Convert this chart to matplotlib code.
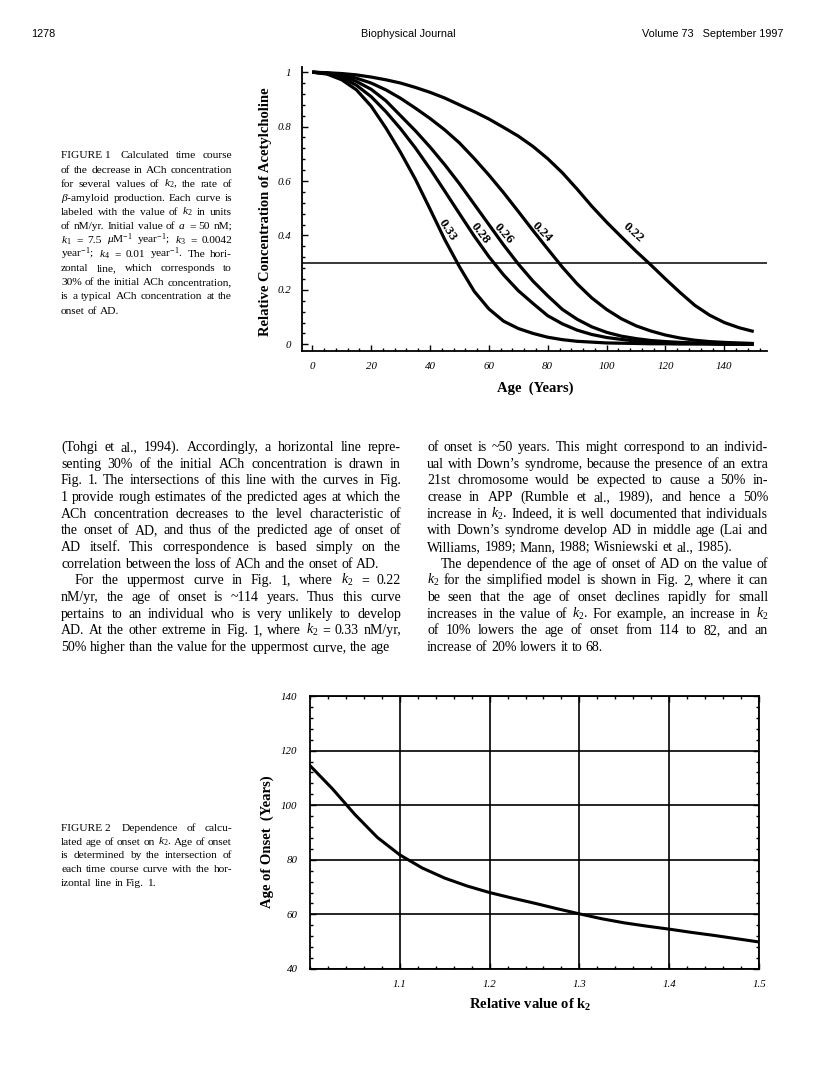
import matplotlib
matplotlib.use('Agg')
import matplotlib.pyplot as plt
from matplotlib.ticker import MultipleLocator
import numpy as np

# === Page size ===
W, H = 816, 1090
DPI = 100

plt.rcParams['font.family'] = 'Liberation Serif'
plt.rcParams['mathtext.fontset'] = 'custom'
plt.rcParams['mathtext.rm'] = 'Liberation Serif'
plt.rcParams['mathtext.it'] = 'Liberation Serif:italic'
plt.rcParams['mathtext.bf'] = 'Liberation Serif:bold'

# === Figure 1 data: relative ACh concentration vs age ===
ages = np.arange(0, 155, 5)
k2_labels = ['0.22', '0.24', '0.26', '0.28', '0.33']
conc_022 = [1.000, 0.998, 0.995, 0.990, 0.982, 0.972, 0.960, 0.944, 0.926, 0.905, 0.880,
            0.855, 0.828, 0.797, 0.765, 0.727, 0.682, 0.630, 0.570, 0.507, 0.449,
            0.395, 0.342, 0.292, 0.240, 0.190, 0.143, 0.107, 0.080, 0.061, 0.047]
conc_024 = [1.000, 0.997, 0.990, 0.978, 0.960, 0.935, 0.904, 0.868, 0.830, 0.788, 0.740,
            0.683, 0.622, 0.557, 0.488, 0.418, 0.350, 0.283, 0.222, 0.170, 0.128,
            0.094, 0.068, 0.049, 0.034, 0.023, 0.015, 0.010, 0.007, 0.005, 0.003]
conc_026 = [1.000, 0.996, 0.986, 0.966, 0.937, 0.895, 0.840, 0.785, 0.725, 0.660, 0.590,
            0.515, 0.440, 0.365, 0.295, 0.232, 0.178, 0.128, 0.092, 0.064, 0.044,
            0.030, 0.021, 0.014, 0.010, 0.007, 0.005, 0.003, 0.002, 0.002, 0.001]
conc_028 = [1.000, 0.995, 0.980, 0.952, 0.910, 0.855, 0.792, 0.722, 0.645, 0.563, 0.480,
            0.398, 0.322, 0.255, 0.197, 0.150, 0.105, 0.075, 0.052, 0.036, 0.025,
            0.018, 0.012, 0.008, 0.006, 0.004, 0.003, 0.002, 0.001, 0.001, 0.001]
conc_033 = [1.000, 0.993, 0.972, 0.935, 0.875, 0.795, 0.705, 0.607, 0.497, 0.385, 0.285,
            0.195, 0.130, 0.085, 0.058, 0.040, 0.026, 0.017, 0.011, 0.008, 0.005,
            0.004, 0.003, 0.002, 0.002, 0.001, 0.001, 0.001, 0.000, 0.000, 0.000]
onset_level = 0.3

# curve label anchors (age, conc) and rotation
label_age = [109, 78, 65, 57, 46]
label_conc = [0.412, 0.412, 0.408, 0.408, 0.418]
label_rot = [-42, -45, -48, -52, -57]

# === Figure 2 data: age of onset vs relative k2 ===
rel_k2 = [1.000, 1.025, 1.050, 1.075, 1.100, 1.125, 1.150, 1.175, 1.200, 1.225, 1.250,
          1.275, 1.300, 1.325, 1.350, 1.375, 1.400, 1.425, 1.450, 1.475, 1.500]
onset_age = [114.5, 106.0, 96.6, 88.2, 81.8, 77.0, 73.3, 70.4, 68.0, 66.0, 64.1,
             62.1, 60.2, 58.4, 56.9, 55.7, 54.6, 53.4, 52.3, 51.1, 49.9]

# === Page text ===
header_left = '1278'
header_mid = 'Biophysical Journal'
header_right = 'Volume 73   September 1997'

cap1 = [
    'FIGURE\u00a01\u00a0 Calculated time course',
    'of the decrease in ACh concentration',
    r'for several values of $k_2$, the rate of',
    r'$\beta$-amyloid production. Each curve is',
    r'labeled with the value of $k_2$ in units',
    r'of nM/yr. Initial value of $a$ = 50 nM;',
    r'$k_1$ = 7.5 $\mu$M$^{-1}$ year$^{-1}$; $k_3$ = 0.0042',
    r'year$^{-1}$; $k_4$ = 0.01 year$^{-1}$. The hori-',
    'zontal line, which corresponds to',
    '30% of the initial ACh concentration,',
    'is a typical ACh concentration at the',
    'onset of AD.',
]
cap2 = [
    'FIGURE\u00a02\u00a0 Dependence of calcu-',
    r'lated age of onset on $k_2$. Age of onset',
    'is determined by the intersection of',
    'each time course curve with the hor-',
    'izontal line in Fig. 1.',
]
col_left = [
    '(Tohgi et al., 1994). Accordingly, a horizontal line repre-',
    'senting 30% of the initial ACh concentration is drawn in',
    'Fig. 1. The intersections of this line with the curves in Fig.',
    '1 provide rough estimates of the predicted ages at which the',
    'ACh concentration decreases to the level characteristic of',
    'the onset of AD, and thus of the predicted age of onset of',
    'AD itself. This correspondence is based simply on the',
    'correlation between the loss of ACh and the onset of AD.',
    r'For the uppermost curve in Fig. 1, where $k_2$ = 0.22',
    'nM/yr, the age of onset is ~114 years. Thus this curve',
    'pertains to an individual who is very unlikely to develop',
    r'AD. At the other extreme in Fig. 1, where $k_2$ = 0.33 nM/yr,',
    '50% higher than the value for the uppermost curve, the age',
]
col_right = [
    'of onset is ~50 years. This might correspond to an individ-',
    'ual with Down\u2019s syndrome, because the presence of an extra',
    '21st chromosome would be expected to cause a 50% in-',
    'crease in APP (Rumble et al., 1989), and hence a 50%',
    r'increase in $k_2$. Indeed, it is well documented that individuals',
    'with Down\u2019s syndrome develop AD in middle age (Lai and',
    'Williams, 1989; Mann, 1988; Wisniewski et al., 1985).',
    'The dependence of the age of onset of AD on the value of',
    r'$k_2$ for the simplified model is shown in Fig. 2, where it can',
    'be seen that the age of onset declines rapidly for small',
    r'increases in the value of $k_2$. For example, an increase in $k_2$',
    'of 10% lowers the age of onset from 114 to 82, and an',
    'increase of 20% lowers it to 68.',
]
left_ends = [7, 12]      # lines that end a paragraph (not justified)
left_indent = [8]
right_ends = [6, 12]
right_indent = [7]

fig = plt.figure(figsize=(W / DPI, H / DPI), dpi=DPI)
renderer = fig.canvas.get_renderer()


def fpos(x, y):
    # page pixels (top-left origin) -> figure fraction
    return x / W, 1 - y / H


def axes_px(left, top, right, bottom):
    return fig.add_axes([left / W, 1 - bottom / H, (right - left) / W, (bottom - top) / H])


def justified(lines, x0, x1, y0, step, size, ends=(), indents=(), indent=14):
    em = size * DPI / 72
    for i, line in enumerate(lines):
        y = y0 + i * step
        start = x0 + (indent if i in indents else 0)
        words = line.split(' ')
        arts = [fig.text(0, 0, w, fontsize=size, ha='left', va='baseline') for w in words]
        widths = [a.get_window_extent(renderer).width for a in arts]
        if i in ends or i == len(lines) - 1 or len(words) == 1:
            gap = 0.25 * em
        else:
            gap = max((x1 - start - sum(widths)) / (len(words) - 1), 0.16 * em)
        x = start
        for a, w in zip(arts, widths):
            a.set_position(fpos(x, y))
            x += w + gap


# === Header ===
hdr = dict(fontsize=7.8, family='Liberation Sans', va='baseline')
fig.text(*fpos(31, 37), header_left, ha='left', **hdr)
fig.text(*fpos(408, 37), header_mid, ha='center', **hdr)
fig.text(*fpos(783, 37), header_right, ha='right', **hdr)

# === Figure 1 ===
ax1 = axes_px(302, 67, 767, 351)
for conc in [conc_022, conc_024, conc_026, conc_028, conc_033]:
    ax1.plot(ages, conc, color='black', lw=2.3, solid_capstyle='butt')
ax1.axhline(onset_level, color='black', lw=1.1)
for lbl, a, c, r in zip(k2_labels, label_age, label_conc, label_rot):
    ax1.text(a, c, lbl, rotation=r, ha='center', va='center', rotation_mode='anchor',
             fontsize=9.5, fontweight='bold')
ax1.set_xlim(-3.5, 154.5)
ax1.set_ylim(-0.0246, 1.019)
for s in ['top', 'right']:
    ax1.spines[s].set_visible(False)
for s in ['left', 'bottom']:
    ax1.spines[s].set_linewidth(1.3)
ax1.set_xticks(np.arange(0, 141, 20))
ax1.xaxis.set_minor_locator(MultipleLocator(4))
ax1.set_yticks(np.arange(0, 1.01, 0.2))
ax1.set_yticklabels(['0', '0.2', '0.4', '0.6', '0.8', '1'])
ax1.yaxis.set_minor_locator(MultipleLocator(0.04))
ax1.tick_params(which='both', direction='in', width=1, labelsize=7.8)
ax1.tick_params(which='major', length=4.5)
ax1.tick_params(which='minor', length=2.5)
ax1.tick_params(axis='x', pad=8)
ax1.tick_params(axis='y', pad=8)
plt.setp(ax1.get_xticklabels() + ax1.get_yticklabels(), fontstyle='italic')
fig.text(*fpos(535, 388), 'Age  (Years)', ha='center', va='center', fontsize=10.5,
         fontweight='bold')
fig.text(*fpos(266, 212), 'Relative Concentration of Acetylcholine', ha='center',
         va='center', rotation=90, fontsize=10.5, fontweight='bold')

# === Figure 2 ===
ax2 = axes_px(310, 696, 759, 969)
ax2.plot(rel_k2, onset_age, color='black', lw=2.2)
ax2.set_xlim(1.0, 1.5)
ax2.set_ylim(40, 140)
ax2.set_xticks([1.1, 1.2, 1.3, 1.4, 1.5])
ax2.xaxis.set_minor_locator(MultipleLocator(0.02))
ax2.set_yticks(np.arange(40, 141, 20))
ax2.yaxis.set_minor_locator(MultipleLocator(4))
ax2.grid(True, which='major', color='black', lw=1.2)
for s in ax2.spines.values():
    s.set_linewidth(1.3)
ax2.tick_params(which='both', direction='in', top=True, right=True, width=1, labelsize=7.8)
ax2.tick_params(which='major', length=4)
ax2.tick_params(which='minor', length=2.5)
ax2.tick_params(axis='x', pad=8)
ax2.tick_params(axis='y', pad=9)
plt.setp(ax2.get_xticklabels() + ax2.get_yticklabels(), fontstyle='italic')
fig.text(*fpos(530, 1005), r'Relative value of k$_{\mathbf{2}}$', ha='center', va='center',
         fontsize=10.5, fontweight='bold')
fig.text(*fpos(267, 842), 'Age of Onset  (Years)', ha='center', va='center', rotation=90,
         fontsize=10.5, fontweight='bold')

# === Captions and body text ===
justified(cap1, 61, 232, 158.5, 14.1, 8.2, ends=[11])
justified(cap2, 61, 232, 831, 13.75, 8.2, ends=[4])
justified(col_left, 61, 401, 451, 16.66, 10.0, ends=left_ends, indents=left_indent)
justified(col_right, 427, 768, 451, 16.66, 10.0, ends=right_ends, indents=right_indent)

fig.savefig('out.png', dpi=DPI)
